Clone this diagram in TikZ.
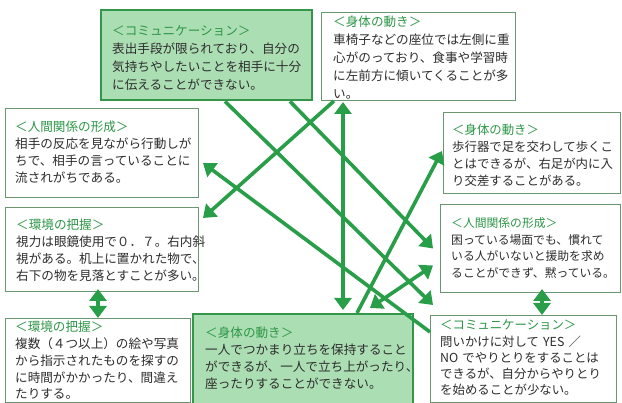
\documentclass[tikz,border=0pt]{standalone}
\usepackage{fontspec}
\setmainfont{Noto Sans CJK JP}
\usetikzlibrary{arrows.meta,calc}
\definecolor{arrowgreen}{RGB}{40,158,72}
\definecolor{boxfill}{RGB}{172,222,180}
\definecolor{boxedge}{RGB}{52,150,74}
\definecolor{thinedge}{RGB}{105,150,112}
\definecolor{headgreen}{RGB}{44,150,70}
\definecolor{bodytext}{RGB}{45,45,45}
\begin{document}
\begin{tikzpicture}[x=1pt,y=-1pt,
  gbox/.style={draw=boxedge, line width=2.4pt, fill=boxfill, rectangle, inner sep=0, anchor=north west},
  wbox/.style={draw=thinedge, line width=1pt, fill=white, rectangle, inner sep=0, anchor=north west},
  txt/.style={anchor=base west, inner sep=0, text width=230pt, align=left, text=bodytext},
  conn/.style={draw=arrowgreen, line width=3.6pt},
  onetip/.style={-{Triangle[length=12pt,width=17pt]}},
  twotip/.style={{Triangle[length=12pt,width=17pt]}-{Triangle[length=12pt,width=17pt]}}
]
\useasboundingbox (0,0) rectangle (622,403);
\fill[white] (0,0) rectangle (622,403);

% boxes
\node[gbox, minimum width=211pt, minimum height=90pt] (comm1) at (100,9) {};
\node[wbox, minimum width=194pt, minimum height=88pt] (body1) at (321,12) {};
\node[wbox, minimum width=193pt, minimum height=89pt] (rel1) at (5,108) {};
\node[wbox, minimum width=193pt, minimum height=84pt] (env1) at (5,207) {};
\node[wbox, minimum width=185pt, minimum height=84pt] (env2) at (5,318) {};
\node[gbox, minimum width=220pt, minimum height=100pt] (body2) at (192,313) {};
\node[wbox, minimum width=177pt, minimum height=81pt] (body3) at (443,112) {};
\node[wbox, minimum width=180pt, minimum height=88pt] (rel2) at (440,204) {};
\node[wbox, minimum width=186pt, minimum height=87pt] (comm2) at (430,315) {};

% texts
\node[txt, font=\fontsize{12.6}{18}\selectfont] (t1) at (112,36)
 {\textcolor{headgreen}{＜コミュニケーション＞}\\表出手段が限られており、自分の\\気持ちやしたいことを相手に十分\\に伝えることができない。};
\node[txt, font=\fontsize{12.6}{17.8}\selectfont] (t2) at (333,27)
 {\textcolor{headgreen}{＜身体の動き＞}\\車椅子などの座位では左側に重\\心がのっており、食事や学習時\\に左前方に傾いてくることが多\\い。};
\node[txt, font=\fontsize{12.6}{17}\selectfont] (t3) at (15,132)
 {\textcolor{headgreen}{＜人間関係の形成＞}\\相手の反応を見ながら行動しが\\ちで、相手の言っていることに\\流されがちである。};
\node[txt, font=\fontsize{12.6}{17}\selectfont] (t4) at (16,230)
 {\textcolor{headgreen}{＜環境の把握＞}\\視力は眼鏡使用で０．７。右内斜\\視がある。机上に置かれた物で、\\右下の物を見落とすことが多い。};
\node[txt, font=\fontsize{12.6}{16.7}\selectfont] (t5) at (15,332)
 {\textcolor{headgreen}{＜環境の把握＞}\\複数（４つ以上）の絵や写真\\から指示されたものを探すの\\に時間がかかったり、間違え\\たりする。};
\node[txt, font=\fontsize{12.6}{17}\selectfont] (t6) at (205,338)
 {\textcolor{headgreen}{＜身体の動き＞}\\一人でつかまり立ちを保持すること\\ができるが、一人で立ち上がったり、\\座ったりすることができない。};
\node[txt, font=\fontsize{12.4}{17}\selectfont] (t7) at (452,135)
 {\textcolor{headgreen}{＜身体の動き＞}\\歩行器で足を交わして歩くこ\\とはできるが、右足が内に入\\り交差することがある。};
\node[txt, font=\fontsize{11.8}{16.5}\selectfont] (t8) at (451,228)
 {\textcolor{headgreen}{＜人間関係の形成＞}\\困っている場面でも、慣れて\\いる人がいないと援助を求め\\ることができず、黙っている。};
\node[txt, font=\fontsize{12.4}{16.2}\selectfont] (t9) at (440,330)
 {\textcolor{headgreen}{＜コミュニケーション＞}\\問いかけに対して YES ／\\NO でやりとりをすることは\\できるが、自分からやりとり\\を始めることが少ない。};

% connectors
\draw[conn, onetip] ($(body1.south west)+(13,0)$) -- ($(env1.north east)+(4,11)$);
\draw[conn, twotip] ($(body1.south west)+(22,1)$) -- ($(body2.north west)+(151,-3)$);
\draw[conn, onetip] ($(comm1.south west)+(125,0)$) -- ($(comm2.north west)+(3,-10)$);
\draw[conn, onetip] ($(comm1.south west)+(190,0)$) -- ($(rel2.west)+(-7,0)$);
\draw[conn, onetip] ($(comm2.north west)+(0,17)$) -- ($(rel1.east)+(4,10)$);
\draw[conn, onetip] ($(body2.north west)+(165,0)$) -- ($(body3.west)+(-1,-2)$);
\draw[conn, twotip] ($(body2.north west)+(178,-5)$) -- ($(rel2.west)+(-7,17)$);
\draw[conn, twotip] ($(env1.south west)+(93,-3)$) -- ($(env2.north west)+(93,0)$);
\draw[conn, twotip] ($(rel2.south west)+(102,-4)$) -- ($(comm2.north west)+(112,0)$);
\end{tikzpicture}
\end{document}
